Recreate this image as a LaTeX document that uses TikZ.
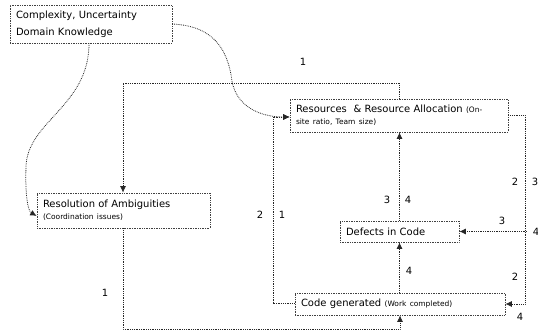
\documentclass[tikz,border=0pt]{standalone}
\usepackage{fontspec}
\setmainfont{DejaVu Sans}
\usetikzlibrary{positioning,calc,arrows.meta}

\tikzset{
  blk/.style={draw=black!75, densely dotted, line width=0.7bp, fill=white,
    minimum height=#1, inner xsep=6bp, inner ysep=2bp, align=left,
    font=\fontsize{10}{13}\selectfont},
  blk/.default=21bp,
  wire/.style={draw=black!85, densely dotted, line width=0.8bp},
  num/.style={font=\fontsize{10}{12}\selectfont, inner sep=0pt},
}
\newcommand{\sm}[1]{{\fontsize{7.5}{9}\selectfont #1}}

\begin{document}
\begin{tikzpicture}[>={Latex[length=6.5bp,width=6bp]},line join=bevel]
  \useasboundingbox (0bp,0bp) rectangle (538bp,331bp);
  %%
    % Node: cplx
    \node[blk=38bp, text width=150bp, font=\fontsize{10}{17}\selectfont] (cplx) at (91bp,307bp)
      {Complexity, Uncertainty\\Domain Knowledge};
    % Node: res
    \node[blk=33bp, text width=206bp] (res) at (399bp,215.5bp)
      {Resources\ \ \& Resource Allocation \sm{(On-}\\[-1bp]\sm{site ratio, Team size)}};
    % Node: amb
    \node[blk=35bp, text width=161bp] (amb) at (123.5bp,120.5bp)
      {Resolution of Ambiguities\\[-1bp]\sm{(Coordination issues)}};
    % Node: dfc
    \node[blk=21bp, text width=107bp] (dfc) at (399.5bp,99.5bp)
      {Defects in Code};
    % Node: code
    \node[blk=22bp, text width=198bp] (code) at (400bp,27bp)
      {Code generated \sm{(Work completed)}};
  %
    % Edge: cplx -> amb
    \draw [wire,->] (cplx.south -| 89bp,0) .. controls (89bp,225bp) and (28bp,210bp) .. (26bp,165bp)
      .. controls (25bp,135bp) and (28bp,120bp) .. (amb.west |- 0,115bp);
    % Edge: cplx -> res
    \draw [wire,->] (cplx.east) .. controls (215bp,305bp) and (228bp,280bp) .. (232bp,250bp)
      .. controls (236bp,226bp) and (258bp,214bp) .. (res.west |- 0,214bp);
    % Edge: res -> amb
    \draw [wire,->] (res.north) -- (399bp,248bp) -- (123bp,248bp) -- (amb.north -| 123bp,0);
    \node[num] (n1) at (303bp,269bp) {1};
    % Edge: code -> res
    \draw [wire,->] (code.west |- 0,28bp) -- (273bp,28bp) -- (273bp,214bp) -- (res.west |- 0,214bp);
    \node[num] (n2) at (260bp,116bp) {2};
    \node[num] (n3) at (282bp,116bp) {1};
    % Edge: amb -> code
    \draw [wire,->] (amb.south -| 123bp,0) -- (123bp,2bp) -- (400bp,2bp) -- (code.south);
    \node[num] (n4) at (105bp,38bp) {1};
    % Edge: code -> dfc
    \draw [wire,->] (code.north -| 399.5bp,0) -- (dfc.south);
    \node[num] (n5) at (409bp,60bp) {4};
    % Edge: dfc -> res
    \draw [wire,->] (dfc.north) -- (res.south -| 399.5bp,0);
    \node[num] (n6) at (387bp,131bp) {3};
    \node[num] (n7) at (408bp,131bp) {4};
    % Edge: res -> code
    \draw [wire,->] (res.east) -- (525bp,215.5bp) -- (525bp,27bp) -- (code.east);
    \node[num] (n8) at (515bp,149bp) {2};
    \node[num] (n9) at (535bp,149bp) {3};
    \node[num] (n10) at (515bp,54bp) {2};
    \node[num] (n11) at (520bp,14bp) {4};
    % Edge: jr -> dfc
    \coordinate (jr) at (527bp,99.5bp);
    \draw [wire,->] (jr) -- (dfc.east);
    \node[num] (n12) at (502bp,110bp) {3};
    \node[num] (n13) at (536bp,99.5bp) {4};
  %
\end{tikzpicture}
\end{document}
